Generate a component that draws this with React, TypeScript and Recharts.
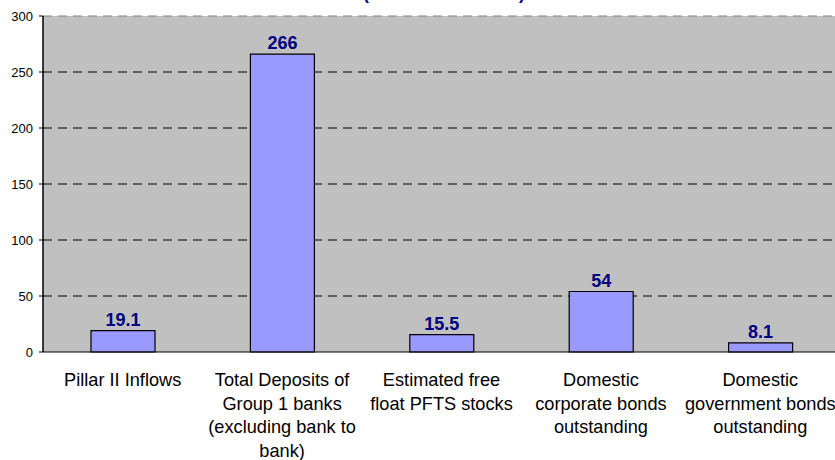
import React from 'react';
import { BarChart, Bar, XAxis, YAxis, CartesianGrid, ReferenceLine, LabelList } from 'recharts';

const categories = [
  'Pillar II Inflows',
  'Total Deposits of\nGroup 1 banks\n(excluding bank to\nbank)',
  'Estimated free\nfloat PFTS stocks',
  'Domestic\ncorporate bonds\noutstanding',
  'Domestic\ngovernment bonds\noutstanding',
];
const values = [19.1, 266, 15.5, 54, 8.1];
const valueLabels = ['19.1', '266', '15.5', '54', '8.1'];
const yTicks = [0, 50, 100, 150, 200, 250, 300];
const gridValues = [50, 100, 150, 200, 250];
const titleText = '(UAH billions 2007)';

const data = categories.map((c, i) => ({ name: c, value: values[i], label: valueLabels[i] }));

const FONT = "Arial, 'Liberation Sans', sans-serif";

const CategoryTick = (props: any) => {
  const { x, y, payload } = props;
  const lines = String(payload.value).split('\n');
  return (
    <g>
      {lines.map((ln, i) => (
        <text
          key={i}
          x={x}
          y={y + 34 + i * 23.5}
          textAnchor="middle"
          fontFamily={FONT}
          fontSize={18.2}
          fill="#000"
        >
          {ln}
        </text>
      ))}
    </g>
  );
};

export default function App() {
  return (
    <div style={{ position: 'absolute', left: 0, top: 0, width: 835, height: 460, overflow: 'hidden', background: '#fff' }}>
      <div
        style={{
          position: 'absolute',
          left: 344,
          width: 200,
          top: -17.5,
          textAlign: 'center',
          fontFamily: FONT,
          fontSize: 17.8,
          lineHeight: '20px',
          fontWeight: 'bold',
          color: '#000099',
          whiteSpace: 'nowrap',
        }}
      >
        {titleText}
      </div>
      <BarChart
        width={840}
        height={460}
        data={data}
        margin={{ top: 16, right: 0, bottom: 0, left: 0 }}
        barSize={64}
      >
        <CartesianGrid
          vertical={false}
          horizontalValues={gridValues}
          stroke="#000"
          strokeDasharray="9 6"
          fill="#C0C0C0"
          fillOpacity={1}
        />
        <ReferenceLine y={300} stroke="#808080" strokeDasharray="9 6" ifOverflow="visible" />
        <XAxis
          dataKey="name"
          interval={0}
          height={108}
          tickLine={false}
          tickSize={0}
          tickMargin={0}
          axisLine={{ stroke: '#000', strokeWidth: 1 }}
          tick={<CategoryTick />}
        />
        <YAxis
          domain={[0, 300]}
          ticks={yTicks}
          width={43}
          interval={0}
          tickSize={4}
          tickMargin={6}
          axisLine={{ stroke: '#000', strokeWidth: 1.5 }}
          tickLine={{ stroke: '#000' }}
          tick={{ fill: '#000', fontSize: 13, fontFamily: FONT }}
        />
        <Bar dataKey="value" fill="#9999FF" stroke="#000" strokeWidth={1.2} isAnimationActive={false}>
          <LabelList
            dataKey="label"
            position="top"
            offset={5}
            fill="#000080"
            fontSize={18}
            fontWeight="bold"
            fontFamily={FONT}
          />
        </Bar>
      </BarChart>
    </div>
  );
}
